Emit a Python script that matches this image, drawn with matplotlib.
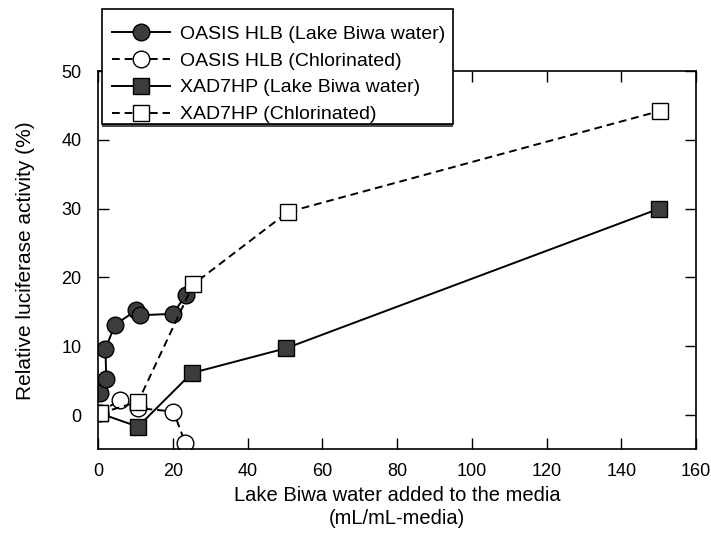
import matplotlib
matplotlib.use("Agg")
import matplotlib.pyplot as plt
from matplotlib.patches import Rectangle

plt.rcParams['font.family'] = ['Liberation Sans', 'DejaVu Sans']

# Data
hlb_lake_x = [0.45, 2.2, 2.0, 4.5, 10.2, 11.3, 20.0, 23.5]
hlb_lake_y = [3.2, 5.3, 9.6, 13.1, 15.2, 14.5, 14.7, 17.4]
hlb_chl_x = [0.45, 5.8, 10.7, 20.2, 23.3]
hlb_chl_y = [0.3, 2.2, 1.0, 0.5, -4.0]
xad_lake_x = [0.45, 10.7, 25.1, 50.3, 150.2]
xad_lake_y = [0.25, -1.7, 6.1, 9.7, 30.0]
xad_chl_x = [0.45, 10.7, 25.5, 50.8, 150.4]
xad_chl_y = [0.25, 1.9, 19.0, 29.5, 44.2]

labels = ["OASIS HLB (Lake Biwa water)", "OASIS HLB (Chlorinated)",
          "XAD7HP (Lake Biwa water)", "XAD7HP (Chlorinated)"]
xticks = [0, 20, 40, 60, 80, 100, 120, 140, 160]
yticks = [0, 10, 20, 30, 40, 50]

W, H = 711, 553
fig = plt.figure(figsize=(W/100, H/100), dpi=100)
ax = fig.add_axes([98/W, 1 - 449.4/H, (696-98)/W, (449.4-71)/H])

fill = '#3c3c3c'
dash = (0, (4, 2.5))
lw = 1.4
ms = 12
l1, = ax.plot(hlb_lake_x, hlb_lake_y, '-', color='black', lw=lw, marker='o', ms=ms,
              mfc=fill, mec='black', mew=1.0)
l2, = ax.plot(hlb_chl_x, hlb_chl_y, linestyle=dash, color='black', lw=lw, marker='o', ms=ms,
              mfc='white', mec='black', mew=1.0)
l3, = ax.plot(xad_lake_x, xad_lake_y, '-', color='black', lw=lw, marker='s', ms=ms,
              mfc=fill, mec='black', mew=1.0)
l4, = ax.plot(xad_chl_x, xad_chl_y, linestyle=dash, color='black', lw=lw, marker='s', ms=ms,
              mfc='white', mec='black', mew=1.0)

ax.set_xlim(0, 160)
ax.set_ylim(-5, 50)
ax.set_xticks(xticks)
ax.set_yticks(yticks)
ax.tick_params(direction='in', length=8, width=1, top=True, right=True,
               labelsize=13)
ax.tick_params(axis='x', pad=10)
ax.tick_params(axis='y', pad=12)
for s in ax.spines.values():
    s.set_linewidth(1.2)

ax.set_xlabel("Lake Biwa water added to the media\n(mL/mL-media)", fontsize=14.5,
              labelpad=4, linespacing=1.3)
ax.set_ylabel("Relative luciferase activity (%)", fontsize=15, labelpad=19)

# legend box (frame drawn separately: shadowed bottom edge)
bx0, bx1, by0, by1 = 102, 453, 9, 124
fig.add_artist(Rectangle((bx0/W, 1 - (by1+3)/H), (bx1-bx0)/W, (by1+3-by0)/H,
                         transform=fig.transFigure, facecolor='0.3',
                         edgecolor='none', zorder=4))
fig.add_artist(Rectangle((bx0/W, 1 - by1/H), (bx1-bx0)/W, (by1-by0)/H,
                         transform=fig.transFigure, facecolor='white',
                         edgecolor='black', lw=1.2, zorder=4.5))
leg = fig.legend([l1, l2, l3, l4], labels, loc='upper left',
                 bbox_to_anchor=(112/W, 1 - 25/H), bbox_transform=fig.transFigure,
                 borderaxespad=0, borderpad=0, fontsize=14, frameon=False,
                 handlelength=3.0, handletextpad=0.5, labelspacing=0.48)
leg.set_zorder(5)

fig.savefig("out.png", dpi=100)
